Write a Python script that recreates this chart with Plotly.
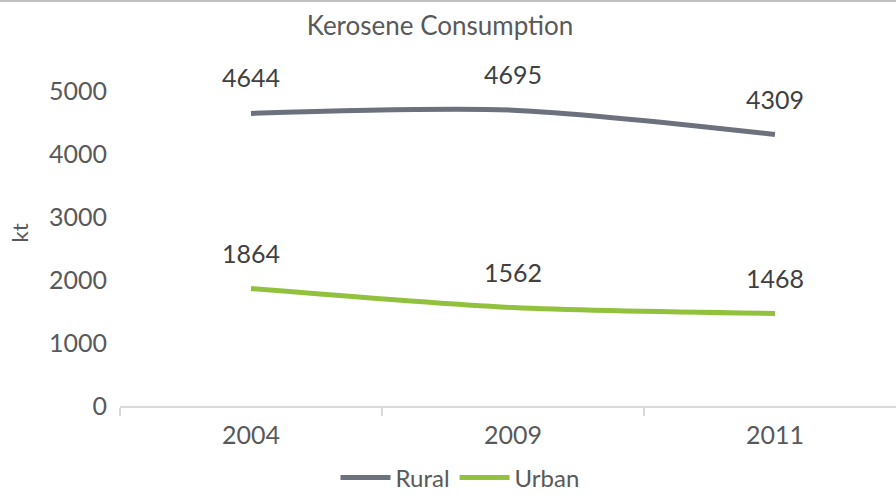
import plotly.graph_objects as go

years = ["2004", "2009", "2011"]
rural = [4644, 4695, 4309]
urban = [1864, 1562, 1468]
y_ticks = [0, 1000, 2000, 3000, 4000, 5000]

FONT = "Lato"
TXT = "#595959"
RURAL_C = "#6c717e"
URBAN_C = "#92c13e"

fig = go.Figure()
fig.add_trace(go.Scatter(x=years, y=rural, name="Rural", mode="lines",
                         line=dict(color=RURAL_C, width=5, shape="spline", smoothing=0.8)))
fig.add_trace(go.Scatter(x=years, y=urban, name="Urban", mode="lines",
                         line=dict(color=URBAN_C, width=5, shape="spline", smoothing=0.8)))

annotations = []
for series in (rural, urban):
    for i, yv in enumerate(series):
        annotations.append(dict(x=i, y=yv, xref="x", yref="y", text=str(yv), showarrow=False,
                                yshift=36, font=dict(family=FONT, size=25, color="#404040")))

fig.update_layout(
    width=896, height=496,
    margin=dict(l=120, r=0, t=60, b=90),
    paper_bgcolor="white", plot_bgcolor="white",
    title=dict(text="Kerosene Consumption", x=440/896, xref="container", xanchor="center",
               y=1 - 26/496, yref="container", yanchor="middle",
               font=dict(family=FONT, size=26, color=TXT)),
    font=dict(family=FONT, color=TXT),
    showlegend=True,
    legend=dict(orientation="h", x=460/896, xref="container", xanchor="center",
                y=(496 - 478) / 496, yref="container", yanchor="middle",
                font=dict(family=FONT, size=24, color=TXT),
                itemwidth=50, tracegroupgap=0),
    annotations=annotations,
    shapes=[dict(type="line", xref="paper", yref="paper", x0=-0.2, x1=1.0,
                 y0=1 + 59/346, y1=1 + 59/346, line=dict(color="#c0c0c0", width=2))],
)
fig.update_xaxes(type="category", range=[-0.5, 2.462], showgrid=False, automargin=False,
                 showline=True, linecolor="#d9d9d9", linewidth=2,
                 ticks="outside", tickson="boundaries", ticklen=8, tickcolor="#d9d9d9",
                 tickwidth=1.5, ticklabelstandoff=6,
                 tickfont=dict(family=FONT, size=25, color=TXT))
fig.update_yaxes(range=[0, 5492], tickvals=y_ticks, showgrid=False, zeroline=False,
                 showline=False, ticks="", ticklabelstandoff=12, automargin=False,
                 tickfont=dict(family=FONT, size=25, color=TXT),
                 title=dict(text="kt", font=dict(family=FONT, size=22, color=TXT), standoff=14))

fig.write_html("out.html", config={"displayModeBar": False},
               post_script="document.body.style.margin='0';document.body.style.overflow='hidden';")
